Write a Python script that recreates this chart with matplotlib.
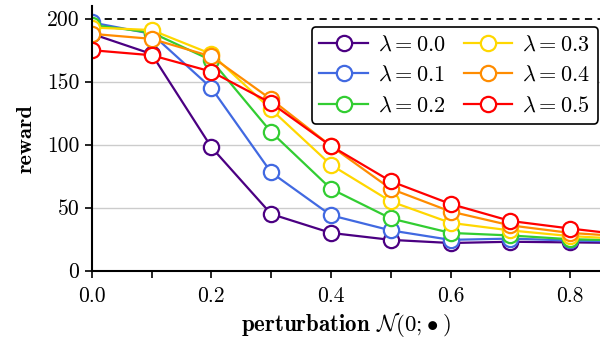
import matplotlib
matplotlib.use("Agg")
import matplotlib.pyplot as plt
import numpy as np

plt.rcParams['mathtext.fontset'] = 'cm'
plt.rcParams['font.family'] = 'serif'
plt.rcParams['font.serif'] = ['cmr10']
plt.rcParams['axes.formatter.use_mathtext'] = True

x = [0.0, 0.1, 0.2, 0.3, 0.4, 0.5, 0.6, 0.7, 0.8, 0.9]
lambdas = ['0.0', '0.1', '0.2', '0.3', '0.4', '0.5']
r_00 = [188, 172, 98, 45, 30, 24.5, 22, 23, 22.5, 22]
r_01 = [197, 188, 145, 78, 44, 32, 24.5, 25.5, 24, 23]
r_02 = [195, 189, 167, 110, 65, 41.5, 30, 28, 25, 24]
r_03 = [193, 191, 172, 128, 84, 55, 38, 32, 27.5, 25]
r_04 = [188, 184, 170, 136, 99, 65, 47, 36, 30, 27]
r_05 = [175, 171, 158, 133, 99, 71, 53, 39.5, 33.5, 28]
series = [r_00, r_01, r_02, r_03, r_04, r_05]
colors = ['#4B0082', '#4169E1', '#32CD32', '#FFD700', '#FF8C00', '#FF0000']

fig = plt.figure(figsize=(6.0, 3.38), dpi=100)
ax = fig.add_axes([0.153, 0.199, 0.847, 0.783])

for lam, ys, c in zip(lambdas, series, colors):
    ax.plot(x, ys, color=c, lw=1.6, marker='o', markersize=11,
            markerfacecolor='white', markeredgecolor=c, markeredgewidth=1.6,
            label=r'$\lambda = %s$' % lam, clip_on=True)

ax.axhline(200, color='black', lw=1.3, ls=(0, (4, 3)), zorder=1)
ax.set_xlim(0, 0.85)
ax.set_ylim(0, 210)
ax.set_yticks([0, 50, 100, 150, 200])
ax.set_xticks([0.0, 0.2, 0.4, 0.6, 0.8])
ax.set_xticks([0.1, 0.3, 0.5, 0.7], minor=True)
ax.set_xticklabels(['0.0', '0.2', '0.4', '0.6', '0.8'])
ax.set_yticklabels(['0', '50', '100', '150', '200'])
for yv in [50, 100, 150]:
    ax.axhline(yv, color='#cccccc', lw=1.0, zorder=0)

for s in ['top', 'right']:
    ax.spines[s].set_visible(False)
for s in ['left', 'bottom']:
    ax.spines[s].set_linewidth(1.5)
ax.tick_params(axis='both', which='both', direction='out', width=1.2, length=5,
               labelsize=15.5)
ax.tick_params(axis='x', pad=6)
ax.tick_params(axis='y', pad=4)

ax.set_ylabel('reward', fontname='cmb10', fontsize=16, labelpad=8)
ax.set_xlabel(r'perturbation $\mathcal{N}(0;\!\bullet)$', fontname='cmb10',
              fontsize=16.5, labelpad=3)

leg = ax.legend(loc='upper right', bbox_to_anchor=(0.996, 0.921), borderaxespad=0,
                ncol=2, fontsize=16, frameon=True, fancybox=True,
                handlelength=2.2, columnspacing=0.8, labelspacing=0.5,
                handletextpad=0.45, borderpad=0.35)
leg.get_frame().set_edgecolor('black')
leg.get_frame().set_linewidth(1.2)
leg.get_frame().set_alpha(1)

fig.savefig('out.png', dpi=100)
